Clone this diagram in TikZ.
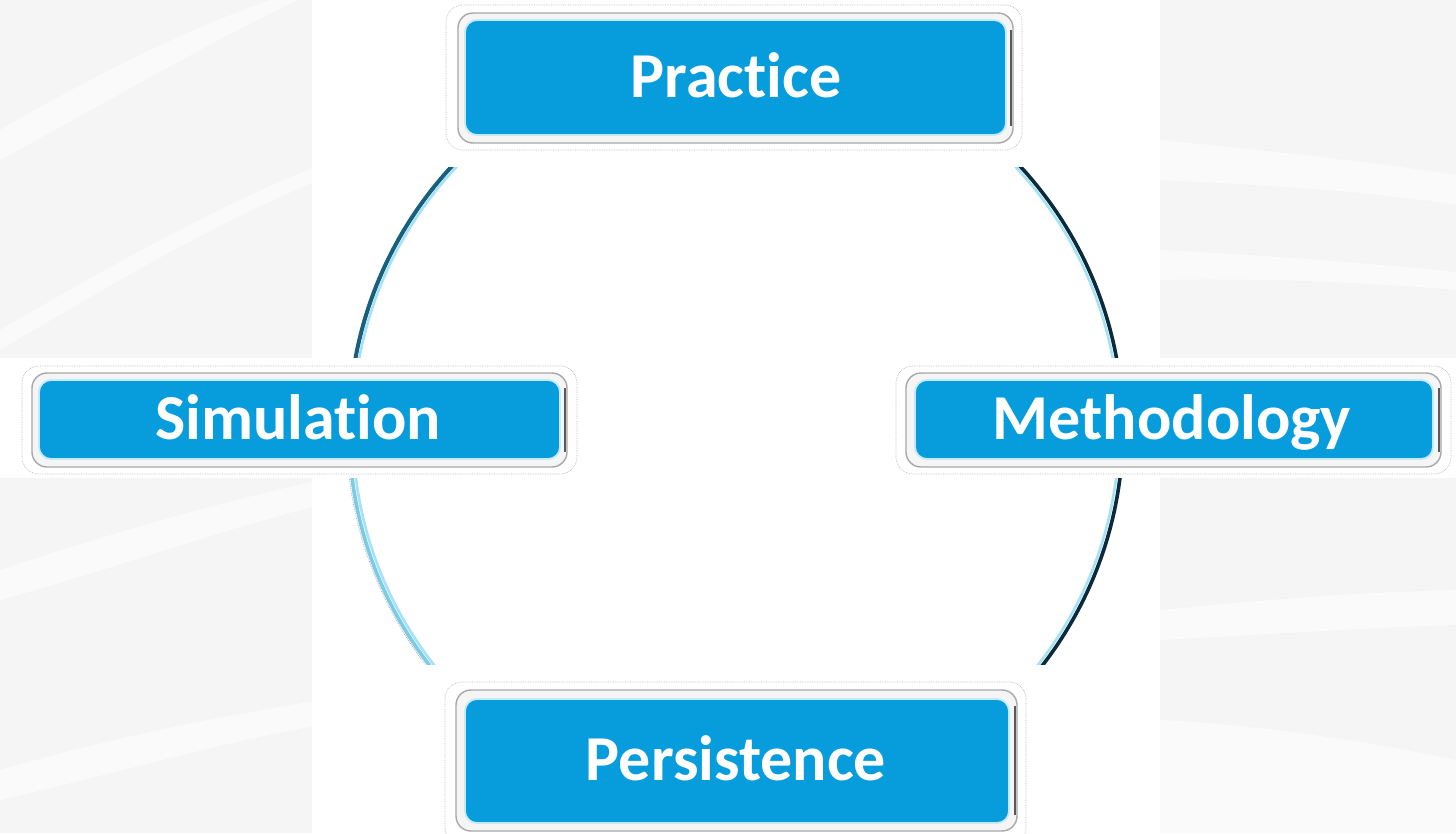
\documentclass[tikz,border=0pt]{standalone}
\usepackage{fontspec}
\setmainfont{Carlito}[Ligatures={NoCommon,NoDiscretionary,NoRare,NoContextual}]
\definecolor{bgray}{HTML}{F5F5F5}
\definecolor{boxblue}{HTML}{079CDB}
\definecolor{boxrim}{HTML}{C4E9F8}
\definecolor{bevelgray}{HTML}{A8A8A8}
\definecolor{ringdark}{HTML}{17607E}
\definecolor{ringnavy}{HTML}{0B2B3B}
\definecolor{ringlight}{HTML}{A6E2F5}
\definecolor{ringpale}{HTML}{7CCBE6}
\tikzset{
  streak/.style={fill=white, opacity=0.5},
  dotrim/.style={draw=gray!55, densely dotted, line width=0.7pt, rounded corners=17pt},
  bevel/.style={fill=white!96!black, draw=bevelgray, line width=1.4pt, rounded corners=15pt},
  bevelshade/.style={draw=black!65, line width=2.5pt},
  bluebox/.style={fill=boxblue, draw=boxrim, line width=1.8pt, rounded corners=12pt},
  label/.style={text=white, font=\fontsize{64}{70}\selectfont\bfseries, inner sep=0pt, anchor=base},
  band/.style={fill=white, draw=none}
}
\begin{document}
\begin{tikzpicture}[x=1pt,y=-1pt]
\useasboundingbox (0,0) rectangle (1456,833);
% background
\fill[bgray] (0,0) rectangle (1456,833);
% streaks on the left
\fill[streak] (0,130) .. controls (120,60) and (220,15) .. (300,-10) -- (320,-10) .. controls (230,30) and (120,95) .. (0,160) -- cycle;
\fill[streak] (0,330) .. controls (120,260) and (230,200) .. (320,165) -- (320,180) .. controls (220,220) and (110,285) .. (0,350) -- cycle;
\fill[streak] (0,570) .. controls (120,530) and (230,500) .. (320,480) -- (320,505) .. controls (220,530) and (110,570) .. (0,600) -- cycle;
\fill[streak] (0,770) .. controls (120,735) and (230,715) .. (320,700) -- (320,725) .. controls (230,740) and (110,775) .. (0,800) -- cycle;
% streaks on the right
\fill[streak] (1160,140) .. controls (1260,150) and (1360,160) .. (1456,175) -- (1456,205) .. controls (1360,190) and (1260,185) .. (1160,180) -- cycle;
\fill[streak] (1160,250) .. controls (1260,255) and (1360,262) .. (1456,272) -- (1456,290) .. controls (1360,282) and (1260,278) .. (1160,280) -- cycle;
\fill[streak] (1160,610) .. controls (1260,600) and (1360,592) .. (1456,590) -- (1456,625) .. controls (1360,628) and (1260,635) .. (1160,640) -- cycle;
\fill[streak] (1160,720) .. controls (1260,725) and (1360,740) .. (1456,760) -- (1456,833) -- (1160,833) -- cycle;
% central white panel
\fill[white] (312,0) rectangle (1160,833);
% ring
\coordinate (ctr) at (736,429);
\draw[ringdark, line width=4pt] (ctr) ++(180:387) arc[start angle=180, end angle=270, radius=387];
\draw[ringnavy, line width=3.6pt] (ctr) ++(270:387) arc[start angle=270, end angle=360, radius=387];
\draw[ringnavy, line width=3.6pt] (ctr) ++(0:387) arc[start angle=0, end angle=90, radius=387];
\draw[ringpale, line width=3.6pt] (ctr) ++(90:387) arc[start angle=90, end angle=180, radius=387];
\draw[gray!60, densely dotted, line width=0.8pt] (ctr) ++(100:389.8) arc[start angle=100, end angle=180, radius=389.8];
\draw[ringlight, line width=2.6pt] (ctr) circle[radius=383.2];
% white bands behind the boxes
\fill[band] (312,0) rectangle (1160,167);
\fill[band] (312,665) rectangle (1160,833);
\fill[band] (0,358) rectangle (600,478);
\fill[band] (880,358) rectangle (1456,478);
% Practice
\draw[dotrim] (446,5) rectangle (1022,150);
\draw[bevel] (458,13) rectangle (1013,143);
\draw[bevelshade] (1011,30) -- (1011,126);
\draw[bluebox] (465,20) rectangle (1006,135);
\node[label] (practice) at (736,97) {Practice};
% Simulation
\draw[dotrim] (22,366) rectangle (577,474);
\draw[bevel] (32,373) rectangle (567,467);
\draw[bevelshade] (565,388) -- (565,452);
\draw[bluebox] (39,380) rectangle (560,459);
\node[label] (simulation) at (298,439) {Simulation};
% Methodology
\draw[dotrim] (896,366) rectangle (1451,474);
\draw[bevel] (906,373) rectangle (1441,467);
\draw[bevelshade] (1439,388) -- (1439,452);
\draw[bluebox] (915,380) rectangle (1433,459);
\node[label] (methodology) at (1172,439) {Methodology};
% Persistence
\draw[dotrim] (445,682) rectangle (1026,845);
\draw[bevel] (456,690) rectangle (1017,831);
\draw[bevelshade] (1015,706) -- (1015,815);
\draw[bluebox] (465,699) rectangle (1009,823);
\node[label] (persistence) at (736,780) {Persistence};
\end{tikzpicture}
\end{document}
